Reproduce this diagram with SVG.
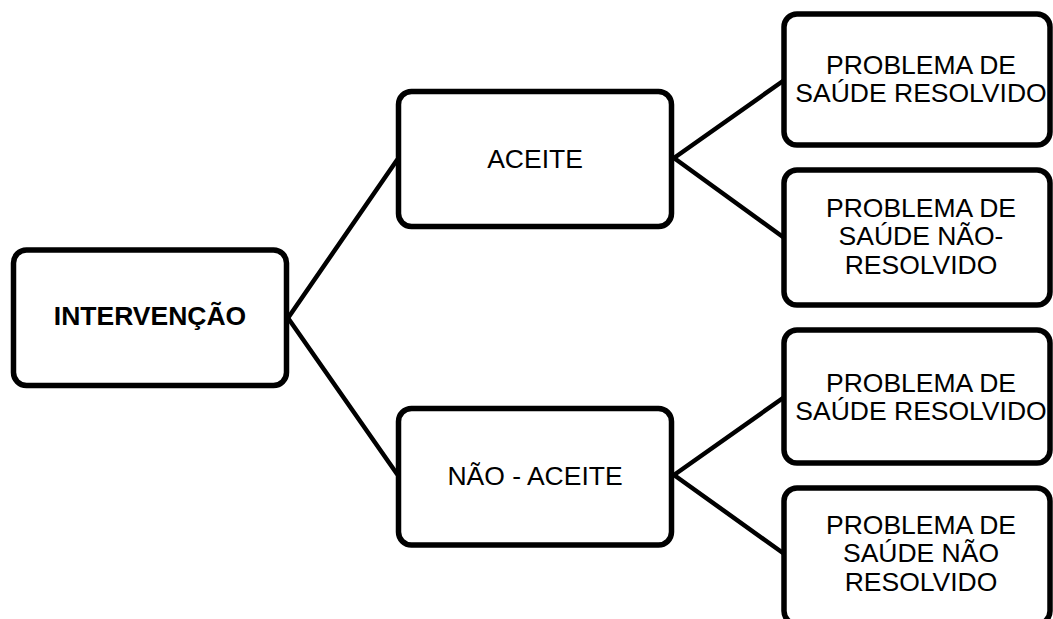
<svg xmlns="http://www.w3.org/2000/svg" width="1053" height="619" viewBox="0 0 1053 619">
<style>
.box{fill:#fff;stroke:#000;stroke-width:5.5}
.t{font-family:"Liberation Sans",Arial,Helvetica,sans-serif;font-size:26.5px;fill:#000;text-anchor:middle}
.b{font-weight:bold}
.c{stroke:#000;stroke-width:4.5;fill:none;stroke-linecap:round}
</style>
<rect width="1053" height="619" fill="#fff"/>
<g id="connectors">
<line class="c" x1="288" y1="318" x2="397" y2="160"/>
<line class="c" x1="288" y1="318" x2="397" y2="474"/>
<line class="c" x1="674" y1="158" x2="783" y2="81"/>
<line class="c" x1="674" y1="158" x2="783" y2="237"/>
<line class="c" x1="674" y1="475" x2="783" y2="398"/>
<line class="c" x1="674" y1="475" x2="783" y2="553"/>
</g>
<g id="intervencao">
<rect class="box" x="13.5" y="250" width="273" height="135.5" rx="13"/>
<text class="t b" x="150" y="325">INTERVENÇÃO</text>
</g>
<g id="aceite">
<rect class="box" x="398.5" y="91.5" width="273" height="135" rx="13"/>
<text class="t" x="535" y="168">ACEITE</text>
</g>
<g id="nao-aceite">
<rect class="box" x="398.5" y="408.5" width="273" height="136.5" rx="13"/>
<text class="t" x="535" y="485">NÃO - ACEITE</text>
</g>
<g id="r1">
<rect class="box" x="784" y="14" width="266" height="131" rx="13"/>
<text class="t" x="921" y="74">PROBLEMA DE</text>
<text class="t" x="921" y="102">SAÚDE RESOLVIDO</text>
</g>
<g id="r2">
<rect class="box" x="784" y="170" width="266" height="135" rx="13"/>
<text class="t" x="921" y="217">PROBLEMA DE</text>
<text class="t" x="921" y="245">SAÚDE NÃO-</text>
<text class="t" x="921" y="274">RESOLVIDO</text>
</g>
<g id="r3">
<rect class="box" x="784" y="330" width="266" height="133" rx="13"/>
<text class="t" x="921" y="392">PROBLEMA DE</text>
<text class="t" x="921" y="420">SAÚDE RESOLVIDO</text>
</g>
<g id="r4">
<rect class="box" x="784" y="488" width="266" height="136" rx="13"/>
<text class="t" x="921" y="534">PROBLEMA DE</text>
<text class="t" x="921" y="562">SAÚDE NÃO</text>
<text class="t" x="921" y="591">RESOLVIDO</text>
</g>
</svg>
